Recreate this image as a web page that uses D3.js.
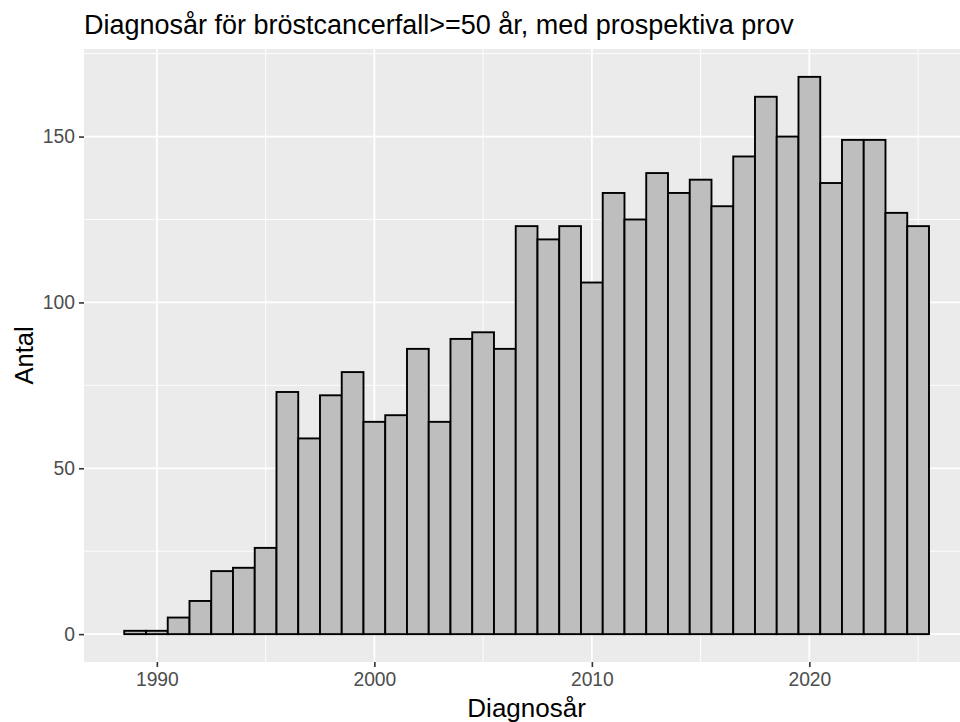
<!DOCTYPE html>
<html>
<head>
<meta charset="utf-8">
<script src="https://cdn.jsdelivr.net/npm/d3@7"></script>
<style>
  html, body { margin: 0; padding: 0; background: #ffffff; }
  svg { display: block; font-family: "Liberation Sans", Arial, sans-serif; }
</style>
</head>
<body>
<svg id="chart" width="960" height="722"></svg>
<script>
// ---- data ----
const years = [1989, 1990, 1991, 1992, 1993, 1994, 1995, 1996, 1997, 1998,
               1999, 2000, 2001, 2002, 2003, 2004, 2005, 2006, 2007, 2008,
               2009, 2010, 2011, 2012, 2013, 2014, 2015, 2016, 2017, 2018,
               2019, 2020, 2021, 2022, 2023, 2024, 2025];
const counts = [1, 1, 5, 10, 19, 20, 26, 73, 59, 72,
                79, 64, 66, 86, 64, 89, 91, 86, 123, 119,
                123, 106, 133, 125, 139, 133, 137, 129, 144, 162,
                150, 168, 136, 149, 149, 127, 123];
const xTicks = [1990, 2000, 2010, 2020];
const xMinor = [1995, 2005, 2015, 2025];
const yTicks = [0, 50, 100, 150];
const yMinor = [25, 75, 125, 175];
const titleText = "Diagnosår för bröstcancerfall>=50 år, med prospektiva prov";
const xLabel = "Diagnosår";
const yLabel = "Antal";

// ---- layout ----
const svg = d3.select("#chart");
const panel = { left: 84, top: 49, bottom: 662 };
const binW = 1;
const xLo = d3.min(years) - binW / 2, xHi = d3.max(years) + binW / 2;
const xPad = (xHi - xLo) * 0.05;
const yMax = d3.max(counts), yPad = yMax * 0.05;
const pxPerYear = 21.75;
const x = d3.scaleLinear()
  .domain([xLo - xPad, xHi + xPad])
  .range([panel.left, panel.left + (xHi - xLo + 2 * xPad) * pxPerYear]);
const y = d3.scaleLinear()
  .domain([-yPad, yMax + yPad])
  .range([panel.bottom, panel.top]);
const [px0, px1] = x.range();

// panel background
svg.append("rect")
  .attr("x", px0).attr("y", panel.top)
  .attr("width", px1 - px0).attr("height", panel.bottom - panel.top)
  .attr("fill", "#EBEBEB");

const grid = svg.append("g");
grid.selectAll(".ymin").data(yMinor).join("line")
  .attr("x1", px0).attr("x2", px1)
  .attr("y1", d => y(d)).attr("y2", d => y(d))
  .attr("stroke", "#ffffff").attr("stroke-width", 0.9);
grid.selectAll(".xmin").data(xMinor).join("line")
  .attr("y1", panel.top).attr("y2", panel.bottom)
  .attr("x1", d => x(d)).attr("x2", d => x(d))
  .attr("stroke", "#ffffff").attr("stroke-width", 0.9);
grid.selectAll(".ymaj").data(yTicks).join("line")
  .attr("x1", px0).attr("x2", px1)
  .attr("y1", d => y(d)).attr("y2", d => y(d))
  .attr("stroke", "#ffffff").attr("stroke-width", 1.8);
grid.selectAll(".xmaj").data(xTicks).join("line")
  .attr("y1", panel.top).attr("y2", panel.bottom)
  .attr("x1", d => x(d)).attr("x2", d => x(d))
  .attr("stroke", "#ffffff").attr("stroke-width", 1.8);

// bars
const bars = years.map((yr, i) => ({ yr, n: counts[i] }));
svg.append("g").selectAll("rect").data(bars).join("rect")
  .attr("x", d => x(d.yr - binW / 2))
  .attr("width", d => x(d.yr + binW / 2) - x(d.yr - binW / 2))
  .attr("y", d => y(d.n))
  .attr("height", d => y(0) - y(d.n))
  .attr("fill", "#BEBEBE")
  .attr("stroke", "#000000")
  .attr("stroke-width", 1.9);

// axes
const xAxis = d3.axisBottom(x).tickValues(xTicks).tickFormat(d3.format("d"))
  .tickSize(5).tickPadding(5);
const gx = svg.append("g").attr("transform", `translate(0,${panel.bottom})`).call(xAxis);
gx.select(".domain").remove();
gx.selectAll(".tick line").attr("stroke", "#333333").attr("stroke-width", 1.6);
gx.selectAll(".tick text").attr("fill", "#4D4D4D")
  .style("font-size", "19.3px").style("font-family", "Liberation Sans, Arial, sans-serif");

const yAxis = d3.axisLeft(y).tickValues(yTicks).tickFormat(d3.format("d"))
  .tickSize(5).tickPadding(4);
const gy = svg.append("g").attr("transform", `translate(${panel.left},0)`).call(yAxis);
gy.select(".domain").remove();
gy.selectAll(".tick line").attr("stroke", "#333333").attr("stroke-width", 1.6);
gy.selectAll(".tick text").attr("fill", "#4D4D4D")
  .style("font-size", "19.3px").style("font-family", "Liberation Sans, Arial, sans-serif");

// titles
svg.append("text")
  .attr("x", panel.left).attr("y", 34)
  .attr("fill", "#000000")
  .style("font-size", "27px")
  .text(titleText);

svg.append("text")
  .attr("x", (px0 + px1) / 2).attr("y", 717)
  .attr("text-anchor", "middle")
  .attr("fill", "#000000")
  .style("font-size", "26px")
  .text(xLabel);

svg.append("text")
  .attr("transform", `translate(33,${(panel.top + panel.bottom) / 2}) rotate(-90)`)
  .attr("text-anchor", "middle")
  .attr("fill", "#000000")
  .style("font-size", "25.5px")
  .text(yLabel);
</script>
</body>
</html>
